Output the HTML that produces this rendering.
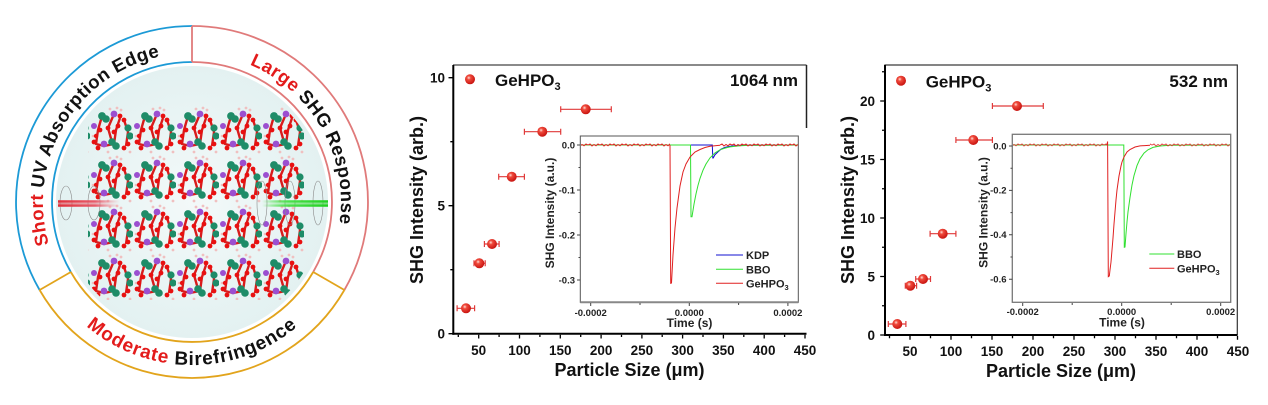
<!DOCTYPE html>
<html><head><meta charset="utf-8">
<style>
html,body{margin:0;padding:0;background:#fff;}
svg{display:block;font-family:"Liberation Sans",Arial,sans-serif;}
</style></head><body>
<svg width="1268" height="405" viewBox="0 0 1268 405" xmlns="http://www.w3.org/2000/svg">
<defs>
 <radialGradient id="ball" cx="0.38" cy="0.35" r="0.65">
  <stop offset="0" stop-color="#ffe0d8"/>
  <stop offset="0.3" stop-color="#f04a3c"/>
  <stop offset="1" stop-color="#c81410"/>
 </radialGradient>
 <radialGradient id="bg" cx="0.5" cy="0.5" r="0.5">
  <stop offset="0" stop-color="#f3f9f9"/>
  <stop offset="1" stop-color="#e3f1f1"/>
 </radialGradient>
 <linearGradient id="redbeam" x1="0" x2="1">
  <stop offset="0" stop-color="#e0303a"/>
  <stop offset="0.6" stop-color="#e85060" stop-opacity="0.85"/>
  <stop offset="1" stop-color="#f0a0a8" stop-opacity="0"/>
 </linearGradient>
 <linearGradient id="greenbeam" x1="0" x2="1">
  <stop offset="0" stop-color="#40e040" stop-opacity="0"/>
  <stop offset="0.4" stop-color="#40e040" stop-opacity="0.85"/>
  <stop offset="1" stop-color="#20d020"/>
 </linearGradient>
 <clipPath id="innerclip"><circle cx="192" cy="202" r="132"/></clipPath>
 <pattern id="cr" x="90" y="106" width="43" height="49" patternUnits="userSpaceOnUse">
  <g stroke="#d81c1c" stroke-width="2.4" fill="none" stroke-linejoin="round">
   <path d="M12,10 L8,24 L6,38 L14,40 L24,38 L26,24 L30,12"/>
   <path d="M24,8 L18,22 L22,36"/>
   <path d="M34,14 L38,26 L36,40"/>
  </g>
  <g fill="#f0c0c0"><circle cx="20" cy="3" r="1.4"/><circle cx="27" cy="2" r="1.4"/><circle cx="31" cy="4" r="1.4"/><circle cx="18" cy="46" r="1.4"/><circle cx="40" cy="46" r="1.4"/><circle cx="3" cy="30" r="1.3"/></g>
  <g fill="#1e8c68"><circle cx="12" cy="10" r="3.9"/><circle cx="16" cy="13" r="3.8"/><circle cx="22" cy="36" r="3.8"/><circle cx="26" cy="40" r="3.8"/><circle cx="38" cy="22" r="3.6"/><circle cx="40" cy="30" r="3.6"/></g>
  <g fill="#9b4fd0"><circle cx="24" cy="8" r="3.4"/><circle cx="14" cy="38" r="3.4"/><circle cx="4" cy="20" r="3"/></g>
  <g fill="#e81010"><circle cx="30" cy="10" r="2.4"/><circle cx="34" cy="14" r="2.4"/><circle cx="10" cy="24" r="2.4"/><circle cx="24" cy="26" r="2.4"/><circle cx="18" cy="22" r="2.4"/><circle cx="28" cy="20" r="2.4"/><circle cx="4" cy="36" r="2.4"/><circle cx="8" cy="42" r="2.4"/><circle cx="34" cy="42" r="2.4"/><circle cx="38" cy="38" r="2.4"/><circle cx="6" cy="30" r="2.2"/></g>
 </pattern>
 <pattern id="nz" x="0" y="143" width="12" height="4" patternUnits="userSpaceOnUse">
  <polyline points="0,2 2,1 4,3 6,1.5 8,2.8 10,1 12,2" stroke="#e02020" stroke-width="1" fill="none"/>
 </pattern>
 <path id="arcL" d="M62.9,276.5 A149,149 0 0,1 192,53"/>
 <path id="arcR" d="M192,53 A149,149 0 0,1 321,276.5"/>
 <path id="arcB" d="M50.8,283.5 A163,163 0 0,0 333.2,283.5"/>
</defs>

<!-- ============ LEFT GRAPHIC ============ -->
<circle cx="192" cy="202" r="136" fill="url(#bg)"/>
<rect x="88" y="106" width="216" height="194" fill="url(#cr)" clip-path="url(#innerclip)"/>
<!-- waves -->
<g fill="none" stroke="#8a8a8a" stroke-width="0.6">
 <ellipse cx="66" cy="203" rx="6" ry="17"/>
 <ellipse cx="94" cy="203" rx="6" ry="17"/>
 <ellipse cx="262" cy="203" rx="5" ry="22"/>
 <ellipse cx="290" cy="203" rx="5" ry="22"/>
 <ellipse cx="318" cy="203" rx="5" ry="22"/>
</g>
<!-- beams -->
<rect x="58" y="200" width="62" height="7" fill="url(#redbeam)" opacity="0.55"/>
<rect x="58" y="200.5" width="62" height="2" fill="url(#redbeam)"/>
<rect x="58" y="204.5" width="62" height="2" fill="url(#redbeam)"/>
<rect x="262" y="200" width="66" height="7" fill="url(#greenbeam)" opacity="0.55"/>
<rect x="262" y="200.5" width="66" height="2" fill="url(#greenbeam)"/>
<rect x="262" y="204.5" width="66" height="2" fill="url(#greenbeam)"/>
<!-- ring -->
<g fill="none" stroke-width="1.8">
 <path d="M39.6,290 A176,176 0 0,1 192,26" stroke="#1c9ad6"/>
 <path d="M70.8,272 A140,140 0 0,1 192,62" stroke="#1c9ad6"/>
 <path d="M192,26 A176,176 0 0,1 344.4,290" stroke="#e07a7a"/>
 <path d="M192,62 A140,140 0 0,1 313.2,272" stroke="#e07a7a"/>
 <path d="M344.4,290 A176,176 0 0,1 39.6,290" stroke="#e2a41c"/>
 <path d="M313.2,272 A140,140 0 0,1 70.8,272" stroke="#e2a41c"/>
 <line x1="192" y1="26" x2="192" y2="62" stroke="#e07a7a"/>
 <line x1="39.6" y1="290" x2="70.8" y2="272" stroke="#e2a41c"/>
 <line x1="344.4" y1="290" x2="313.2" y2="272" stroke="#e2a41c"/>
</g>
<g font-weight="bold" fill="#111">
 <text font-size="18.5" letter-spacing="0.5"><textPath href="#arcL" startOffset="50.5%" text-anchor="middle"><tspan fill="#e31b1b">Short</tspan> UV Absorption Edge</textPath></text>
 <text font-size="18.5" letter-spacing="0.4"><textPath href="#arcR" startOffset="50.5%" text-anchor="middle"><tspan fill="#e31b1b">Large</tspan> SHG Response</textPath></text>
 <text font-size="19" letter-spacing="0.8"><textPath href="#arcB" startOffset="50%" text-anchor="middle"><tspan fill="#e31b1b">Moderate</tspan> Birefringence</textPath></text>
</g>

<!-- ============ MIDDLE CHART ============ -->
<g>
 <line x1="453" y1="65" x2="806.5" y2="65" stroke="#444" stroke-width="1.2"/>
 <line x1="806.5" y1="65" x2="806.5" y2="128" stroke="#222" stroke-width="1.5"/>
 <line x1="453.3" y1="65" x2="453.3" y2="334.7" stroke="#000" stroke-width="2"/>
 <line x1="452.3" y1="333.7" x2="806.5" y2="333.7" stroke="#000" stroke-width="2"/>
 <path stroke="#000" stroke-width="1.3" fill="none" d="M478.7,334.7V338.5 M519.5,334.7V338.5 M560.3,334.7V338.5 M601.1,334.7V338.5 M641.9,334.7V338.5 M682.6,334.7V338.5 M723.4,334.7V338.5 M764.2,334.7V338.5 M805,334.7V338.5
 M458.3,334.7V337 M499.1,334.7V337 M539.9,334.7V337 M580.7,334.7V337 M621.5,334.7V337 M662.2,334.7V337 M703,334.7V337 M743.8,334.7V337 M784.6,334.7V337
 M448.5,333.7H453 M448.5,205.7H453 M448.5,77.7H453 M450.3,269.7H453 M450.3,141.7H453"/>
 <g font-size="13.5" font-weight="bold" text-anchor="middle" fill="#111">
  <text x="478.7" y="355">50</text><text x="519.5" y="355">100</text><text x="560.3" y="355">150</text>
  <text x="601.1" y="355">200</text><text x="641.9" y="355">250</text><text x="682.6" y="355">300</text>
  <text x="723.4" y="355">350</text><text x="764.2" y="355">400</text><text x="805" y="355">450</text>
 </g>
 <g font-size="13.5" font-weight="bold" text-anchor="end" fill="#111">
  <text x="445" y="338.5">0</text><text x="445" y="210.5">5</text><text x="445" y="82.5">10</text>
 </g>
 <text x="629.5" y="376" font-size="18" font-weight="bold" text-anchor="middle" fill="#111">Particle Size (μm)</text>
 <text transform="translate(423,200) rotate(-90)" font-size="18" font-weight="bold" text-anchor="middle" fill="#111">SHG Intensity (arb.)</text>
 <!-- legend -->
 <circle cx="470" cy="79.3" r="5" fill="url(#ball)"/>
 <text x="495" y="86" font-size="17" font-weight="bold" fill="#111">GeHPO<tspan font-size="11" dy="4">3</tspan></text>
 <text x="798" y="86" font-size="17" font-weight="bold" text-anchor="end" fill="#111">1064 nm</text>
 <!-- error bars -->
 <path stroke="#e03a3a" stroke-width="1.2" fill="none" d="
 M457.1,308.3H474.6 M457.1,305.3V311.3 M474.6,305.3V311.3
 M474,263.3H485.2 M474,260.3V266.3 M485.2,260.3V266.3
 M484.4,244H499.1 M484.4,241V247 M499.1,241V247
 M498.7,176.7H524.4 M498.7,173.7V179.7 M524.4,173.7V179.7
 M524.4,131.7H560.7 M524.4,128.7V134.7 M560.7,128.7V134.7
 M560.7,109.3H611.3 M560.7,106.3V112.3 M611.3,106.3V112.3"/>
 <g fill="url(#ball)">
  <circle cx="466" cy="308.3" r="5"/><circle cx="479.3" cy="263.3" r="5"/><circle cx="492" cy="244" r="5"/>
  <circle cx="511.7" cy="176.7" r="5"/><circle cx="542.3" cy="131.7" r="5"/><circle cx="585.7" cy="109.3" r="5"/>
 </g>
 <!-- inset -->
 <rect x="580.3" y="136" width="218" height="166.3" fill="#fff" stroke="#555" stroke-width="1"/>
 <line x1="580.3" y1="302.3" x2="798.3" y2="302.3" stroke="#888" stroke-width="2"/>
 <path stroke="#444" stroke-width="1" fill="none" d="M577,145H580.3 M577,190H580.3 M577,235H580.3 M577,280H580.3 M578.5,167.5H580.3 M578.5,212.5H580.3 M578.5,257.5H580.3
 M590.7,303V306 M689.3,303V306 M787.9,303V306 M640,303V305 M738.6,303V305"/>
 <g font-size="9.5" font-weight="bold" text-anchor="end" fill="#222">
  <text x="575" y="148.3">0.0</text><text x="575" y="193.3">-0.1</text><text x="575" y="238.3">-0.2</text><text x="575" y="283.3">-0.3</text>
 </g>
 <g font-size="9.5" font-weight="bold" text-anchor="middle" fill="#222">
  <text x="590.7" y="316">-0.0002</text><text x="689.3" y="316">0.0000</text><text x="787.9" y="316">0.0002</text>
 </g>
 <text x="689.5" y="327" font-size="12" font-weight="bold" text-anchor="middle" fill="#222">Time (s)</text>
 <text transform="translate(554,213) rotate(-90)" font-size="12" font-weight="bold" text-anchor="middle" fill="#222">SHG Intensity (a.u.)</text>
 <path fill="none" stroke="#1010d0" stroke-width="1" d="M581,145 L712.3,145 L712.8,158 L713.2,158 L715,154.7 L718,151.9 L721,149.2 L725,147.3 L730,146.2 L740,145.3 L798,145"/>
 <path fill="none" stroke="#30e030" stroke-width="1" d="M581,145 L690.5,145 L691,216.7 L692,216.7 L694,204.2 L696,193.9 L698,185.4 L700,178.4 L703,170.2 L706,164 L710,157.9 L715,152.9 L720,149.8 L725,148.1 L730,146.9 L740,145.8 L750,145.3 L798,145"/>
 <rect x="581" y="143" width="89" height="4" fill="url(#nz)"/>
 <rect x="720" y="143" width="78" height="4" fill="url(#nz)"/>
 <path fill="none" stroke="#e02020" stroke-width="1" d="M670,145 L670.7,283.3 L671.5,283 L673,255 L675,228 L677,208 L680,186 L683,172 L686,164 L690,157 L695,152 L700,149.5 L705,147.5 L710,146.3 L720,145.3"/>
 <path stroke-width="1" fill="none" d="M716,255H743" stroke="#1010d0"/>
 <path stroke-width="1" fill="none" d="M716,269.3H743" stroke="#30e030"/>
 <path stroke-width="1" fill="none" d="M716,283.3H743" stroke="#e02020"/>
 <g font-size="11" font-weight="bold" fill="#222">
  <text x="746" y="259">KDP</text><text x="746" y="273.3">BBO</text><text x="746" y="287.5">GeHPO<tspan font-size="7.5" dy="2.5">3</tspan></text>
 </g>
</g>

<!-- ============ RIGHT CHART ============ -->
<g>
 <rect x="885" y="65" width="352.3" height="270" fill="none" stroke="#333" stroke-width="1.2"/>
 <line x1="885" y1="65" x2="885" y2="336" stroke="#000" stroke-width="2"/>
 <line x1="884" y1="335" x2="1237.3" y2="335" stroke="#000" stroke-width="2"/>
 <path stroke="#000" stroke-width="1.3" fill="none" d="M910,336V339.8 M951,336V339.8 M992,336V339.8 M1033,336V339.8 M1074,336V339.8 M1115,336V339.8 M1156,336V339.8 M1197,336V339.8 M1237.5,336V339.8
 M889.5,336V338.3 M930.5,336V338.3 M971.5,336V338.3 M1012.5,336V338.3 M1053.5,336V338.3 M1094.5,336V338.3 M1135.5,336V338.3 M1176.5,336V338.3 M1217.5,336V338.3
 M880.2,335H885 M880.2,276.5H885 M880.2,218H885 M880.2,159.5H885 M880.2,101H885
 M882,305.75H885 M882,247.25H885 M882,188.75H885 M882,130.25H885 M882,71.75H885"/>
 <g font-size="13.5" font-weight="bold" text-anchor="middle" fill="#111">
  <text x="910" y="356">50</text><text x="951" y="356">100</text><text x="992" y="356">150</text>
  <text x="1033" y="356">200</text><text x="1074" y="356">250</text><text x="1115" y="356">300</text>
  <text x="1156" y="356">350</text><text x="1197" y="356">400</text><text x="1238" y="356">450</text>
 </g>
 <g font-size="13.5" font-weight="bold" text-anchor="end" fill="#111">
  <text x="875" y="339.8">0</text><text x="875" y="281.3">5</text><text x="875" y="222.8">10</text><text x="875" y="164.3">15</text><text x="875" y="105.8">20</text>
 </g>
 <text x="1061" y="377" font-size="18" font-weight="bold" text-anchor="middle" fill="#111">Particle Size (μm)</text>
 <text transform="translate(854,200) rotate(-90)" font-size="18" font-weight="bold" text-anchor="middle" fill="#111">SHG Intensity (arb.)</text>
 <circle cx="901" cy="80.7" r="5" fill="url(#ball)"/>
 <text x="925.7" y="87.3" font-size="17" font-weight="bold" fill="#111">GeHPO<tspan font-size="11" dy="4">3</tspan></text>
 <text x="1228" y="87" font-size="17" font-weight="bold" text-anchor="end" fill="#111">532 nm</text>
 <path stroke="#e03a3a" stroke-width="1.2" fill="none" d="
 M888.3,324H905.9 M888.3,321V327 M905.9,321V327
 M905.3,285.7H916.6 M905.3,282.7V288.7 M916.6,282.7V288.7
 M915.7,279H930.5 M915.7,276V282 M930.5,276V282
 M930.1,233.7H955.9 M930.1,230.7V236.7 M955.9,230.7V236.7
 M955.9,140H992.4 M955.9,137V143 M992.4,137V143
 M992.4,106H1043.3 M992.4,103V109 M1043.3,103V109"/>
 <g fill="url(#ball)">
  <circle cx="897.3" cy="324" r="5"/><circle cx="910.3" cy="285.7" r="5"/><circle cx="923" cy="279" r="5"/>
  <circle cx="942.7" cy="233.7" r="5"/><circle cx="973.3" cy="140" r="5"/><circle cx="1017" cy="106" r="5"/>
 </g>
 <!-- inset -->
 <rect x="1012.3" y="134.3" width="218.4" height="168" fill="#fff" stroke="#777" stroke-width="1.3"/>
 <path stroke="#444" stroke-width="1" fill="none" d="M1009,146H1012.3 M1009,190.4H1012.3 M1009,234.8H1012.3 M1009,279.2H1012.3 M1010.5,168.2H1012.3 M1010.5,212.6H1012.3 M1010.5,257H1012.3
 M1022.7,303V306 M1121.7,303V306 M1220.7,303V306 M1072.2,303V305 M1171.2,303V305"/>
 <g font-size="9.5" font-weight="bold" text-anchor="end" fill="#222">
  <text x="1006.5" y="149.3">0.0</text><text x="1006.5" y="193.7">-0.2</text><text x="1006.5" y="238.1">-0.4</text><text x="1006.5" y="282.5">-0.6</text>
 </g>
 <g font-size="9.5" font-weight="bold" text-anchor="middle" fill="#222">
  <text x="1022.7" y="315">-0.0002</text><text x="1121.7" y="315">0.0000</text><text x="1220.7" y="315">0.0002</text>
 </g>
 <text x="1122" y="326.7" font-size="12" font-weight="bold" text-anchor="middle" fill="#222">Time (s)</text>
 <text transform="translate(987.5,212.5) rotate(-90)" font-size="12" font-weight="bold" text-anchor="middle" fill="#222">SHG Intensity (a.u.)</text>
 <path fill="none" stroke="#30e030" stroke-width="1" d="M1013,145 L1123.8,145 L1124.3,247.3 L1125,247 L1126,233.6 L1127,222 L1128,211.9 L1130,197.5 L1132,185 L1134,175.6 L1137,165.6 L1140,158.8 L1144,153.1 L1148,149.8 L1153,147.4 L1160,146 L1170,145.3 L1230,145"/>
 <rect x="1013" y="143" width="94" height="4" fill="url(#nz)" opacity="0.8"/>
 <rect x="1150" y="143" width="80" height="4" fill="url(#nz)" opacity="0.8"/>
 <path fill="none" stroke="#e02020" stroke-width="1" d="M1107,145 L1107.6,141.5 L1108.3,276.7 L1109.3,276 L1110,270 L1111,262 L1112,250 L1113,238 L1114,224 L1115,212 L1116,200 L1117,190 L1119,176 L1121,166 L1122,162 L1124,157 L1127,152 L1130,149.5 L1135,147 L1140,145.9 L1150,145.2"/>
 <path stroke-width="1" fill="none" d="M1149.3,254H1174.3" stroke="#30e030"/>
 <path stroke-width="1" fill="none" d="M1149.3,268.3H1174.3" stroke="#e02020"/>
 <g font-size="11" font-weight="bold" fill="#222">
  <text x="1177" y="258">BBO</text><text x="1177" y="272.3">GeHPO<tspan font-size="7.5" dy="2.5">3</tspan></text>
 </g>
</g>
</svg>
</body></html>
